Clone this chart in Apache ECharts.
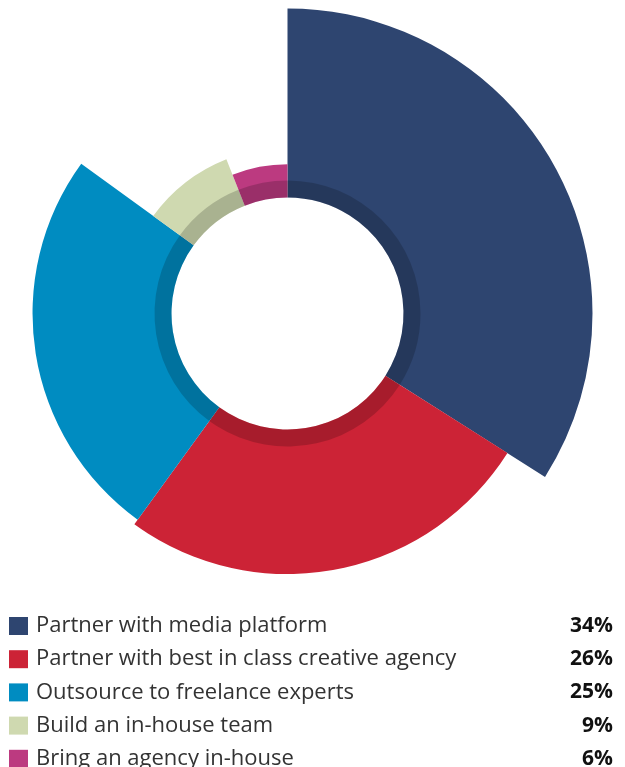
<!DOCTYPE html>
<html>
<head>
<meta charset="utf-8">
<script src="https://cdn.jsdelivr.net/npm/echarts@6/dist/echarts.min.js"></script>
<style>html,body{margin:0;padding:0;background:#fff}#c{width:625px;height:767px}</style>
</head>
<body>
<div id="c"></div>
<script>
const categories = ['Partner with media platform','Partner with best in class creative agency','Outsource to freelance experts','Build an in-house team','Bring an agency in-house'];
const values = [34, 26, 25, 9, 6];
const colors = ['#2e4570','#cc2336','#008cc1','#cfd9b0','#bc3a80'];

const chart = echarts.init(document.getElementById('c'), null, {renderer:'canvas'});
const mainData = categories.map((n,i)=>({name:n, value:values[i], itemStyle:{color:colors[i]}}));
const ringData = categories.map((n,i)=>({name:n, value:values[i]}));
chart.setOption({
  animation:false,
  legend:{
    orient:'vertical', left:9, top:615, padding:0, height:200,
    itemWidth:19, itemHeight:18, itemGap:11.2,
    icon:'rect', selectedMode:false,
    data:categories,
    formatter: name => `{n|${name}}{p|${values[categories.indexOf(name)]}%}`,
    textStyle:{
      padding:[0,0,0,3], lineHeight:20,
      rich:{
        n:{width:517, fontFamily:'Open Sans', fontSize:22, color:'#333', lineHeight:20},
        p:{width:60, align:'right', fontFamily:'Open Sans', fontWeight:'bold', fontSize:21, color:'#111', lineHeight:20}
      }
    }
  },
  series:[
    {
      type:'pie', roseType:'radius', center:[287.5,313.5], radius:[116,305],
      startAngle:90, clockwise:true, label:{show:false}, labelLine:{show:false},
      itemStyle:{borderWidth:0}, emphasis:{disabled:true}, silent:true,
      data:mainData
    },
    {
      type:'pie', center:[287.5,313.5], radius:[116,133],
      startAngle:90, clockwise:true, label:{show:false}, labelLine:{show:false},
      itemStyle:{borderWidth:0, color:'rgba(0,0,0,0.18)'}, emphasis:{disabled:true}, silent:true,
      data:ringData
    }
  ]
});
</script>
</body>
</html>
